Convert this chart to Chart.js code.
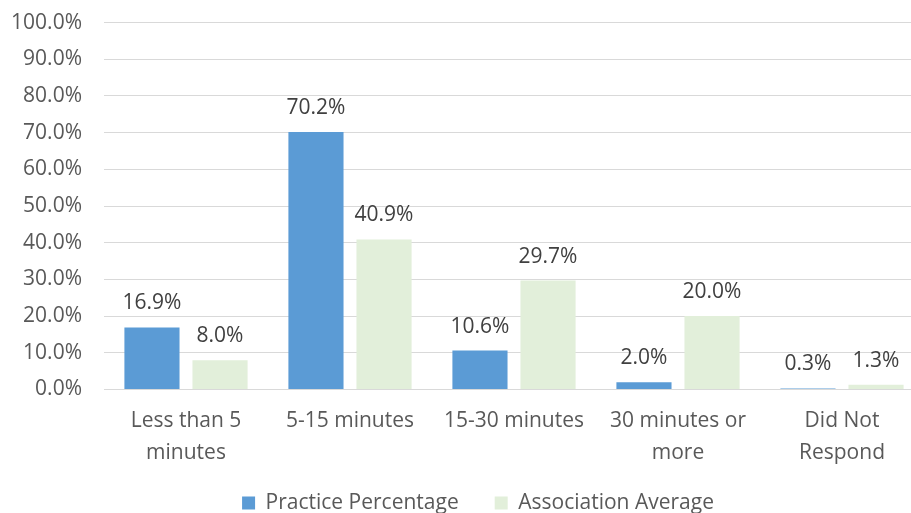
<!DOCTYPE html>
<html>
<head>
<meta charset="utf-8">
<script src="https://cdn.jsdelivr.net/npm/chart.js@4"></script>
<style>
  html, body { margin: 0; padding: 0; background: #fff; overflow: hidden; }
  #wrap { width: 924px; height: 550px; position: relative; }
</style>
</head>
<body>
<div id="wrap"><canvas id="c"></canvas></div>
<script>
const categories = [["Less than 5", "minutes"], "5-15 minutes", "15-30 minutes", ["30 minutes or", "more"], ["Did Not", "Respond"]];
const practicePercentage = [16.9, 70.2, 10.6, 2.0, 0.3];
const associationAverage = [8.0, 40.9, 29.7, 20.0, 1.3];
const seriesNames = ["Practice Percentage", "Association Average"];
const yTicks = [0, 10, 20, 30, 40, 50, 60, 70, 80, 90, 100];

const FONT = "'Open Sans', sans-serif";
const AXIS_COLOR = "#595959";
const LABEL_COLOR = "#404040";

const dataLabels = {
  id: 'dataLabels',
  afterDatasetsDraw(chart) {
    const ctx = chart.ctx;
    ctx.save();
    ctx.font = "21px " + FONT;
    ctx.fillStyle = LABEL_COLOR;
    ctx.textAlign = 'center';
    ctx.textBaseline = 'alphabetic';
    chart.data.datasets.forEach((ds, i) => {
      const meta = chart.getDatasetMeta(i);
      meta.data.forEach((bar, j) => {
        ctx.fillText(ds.data[j].toFixed(1) + '%', bar.x, bar.y - 18);
      });
    });
    ctx.restore();
  }
};

const legendShift = {
  id: 'legendShift',
  afterLayout(chart) {
    const lg = chart.legend;
    if (lg) {
      lg.left += 16; lg.right += 16;
      lg.top -= 26.5; lg.bottom -= 26.5;
    }
  }
};

new Chart(document.getElementById('c'), {
  type: 'bar',
  data: {
    labels: categories,
    datasets: [
      { label: seriesNames[0], data: practicePercentage, backgroundColor: '#5B9BD5', borderWidth: 0 },
      { label: seriesNames[1], data: associationAverage, backgroundColor: '#E2EFDA', borderWidth: 0 }
    ]
  },
  options: {
    responsive: true,
    maintainAspectRatio: false,
    animation: false,
    devicePixelRatio: 1,
    layout: { padding: { top: 0, left: 0, right: 0, bottom: 0 } },
    datasets: { bar: { categoryPercentage: 0.83, barPercentage: 0.81 } },
    scales: {
      x: {
        grid: { display: false, drawTicks: false },
        border: { display: true, color: '#D9D9D9', width: 1 },
        ticks: { color: AXIS_COLOR, font: { family: FONT, size: 21, lineHeight: 1.5 }, padding: 16, maxRotation: 0, autoSkip: false },
        afterFit(scale) { scale.height = 93.5; }
      },
      y: {
        min: 0, max: 100,
        afterBuildTicks(scale) { scale.ticks = yTicks.map(v => ({ value: v })); },
        grid: { color: '#D9D9D9', lineWidth: 1, drawTicks: true, tickLength: 12, tickColor: 'rgba(0,0,0,0)' },
        border: { display: false },
        ticks: { color: AXIS_COLOR, font: { family: FONT, size: 21 }, padding: 10, callback: v => v.toFixed(1) + '%' },
        afterFit(scale) { scale.width = 104; }
      }
    },
    plugins: {
      legend: {
        position: 'bottom',
        labels: { color: AXIS_COLOR, font: { family: FONT, size: 21 }, boxWidth: 13, boxHeight: 13, padding: 36 }
      },
      tooltip: { enabled: false },
      title: { display: false }
    }
  },
  plugins: [dataLabels, legendShift]
});
</script>
</body>
</html>
